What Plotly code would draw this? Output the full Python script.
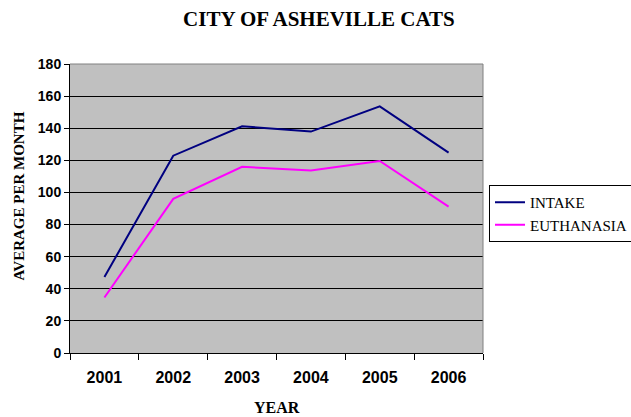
import plotly.graph_objects as go

years = ["2001", "2002", "2003", "2004", "2005", "2006"]
intake = [47.3, 122.9, 141.2, 137.9, 153.6, 124.8]
euthanasia = [34.6, 96.0, 116.0, 113.6, 119.6, 91.2]
y_ticks = [0, 20, 40, 60, 80, 100, 120, 140, 160, 180]

SERIF = "Liberation Serif, Times New Roman, Times, DejaVu Serif, serif"
SANS = "Liberation Sans, Arial, Helvetica, sans-serif"

fig = go.Figure()
fig.add_trace(go.Scatter(x=years, y=intake, mode="lines", name="INTAKE",
                         line=dict(color="#000080", width=2)))
fig.add_trace(go.Scatter(x=years, y=euthanasia, mode="lines", name="EUTHANASIA",
                         line=dict(color="#FF00FF", width=2)))

fig.update_layout(
    width=631, height=417,
    margin=dict(l=70, r=148, t=64, b=64, autoexpand=False),
    paper_bgcolor="white",
    plot_bgcolor="#C0C0C0",
    title=dict(text="<b>CITY OF ASHEVILLE CATS</b>",
               font=dict(family=SERIF, size=21, color="black"),
               x=0.5054, xanchor="center", y=1 - 18.5 / 417, yanchor="middle",
               yref="container"),
    showlegend=True,
    legend=dict(x=1.0145, xanchor="left", y=0.5813, yanchor="top",
                bgcolor="white", bordercolor="black", borderwidth=1,
                font=dict(family=SERIF, size=15, color="black"),
                tracegroupgap=0, itemwidth=30),
    xaxis=dict(type="category", range=[-0.5, 5.5], tickson="boundaries",
               ticks="outside", ticklen=6,
               tickcolor="black", showline=True, linecolor="black", linewidth=1,
               showgrid=False, zeroline=False, ticklabelstandoff=10,
               tickfont=dict(family=SANS, size=16, color="black", weight="bold")),
    yaxis=dict(range=[0, 180], tickvals=y_ticks, ticks="outside", ticklen=5,
               tickcolor="black", showline=True, linecolor="black", linewidth=1,
               showgrid=True, gridcolor="black", gridwidth=1, zeroline=False,
               tickfont=dict(family=SANS, size=14, color="black", weight="bold")),
    annotations=[
        dict(text="<b>YEAR</b>", xref="paper", yref="paper", x=0.5, y=-0.19,
             xanchor="center", yanchor="middle", showarrow=False,
             font=dict(family=SERIF, size=16, color="black")),
        dict(text="<b>AVERAGE PER MONTH</b>", xref="paper", yref="paper",
             x=-0.124, y=0.544, xanchor="center", yanchor="middle", textangle=-90,
             showarrow=False,
             font=dict(family=SERIF, size=15, color="black")),
    ],
    shapes=[
        dict(type="line", xref="paper", yref="paper", x0=0, x1=1, y0=1, y1=1,
             line=dict(color="#808080", width=1), layer="above"),
        dict(type="line", xref="paper", yref="paper", x0=1, x1=1, y0=0, y1=1,
             line=dict(color="#808080", width=1), layer="above"),
    ],
)

fig.write_html("out.html",
               config={"displayModeBar": False},
               post_script="document.body.style.margin='0px';document.body.style.padding='0px';")
